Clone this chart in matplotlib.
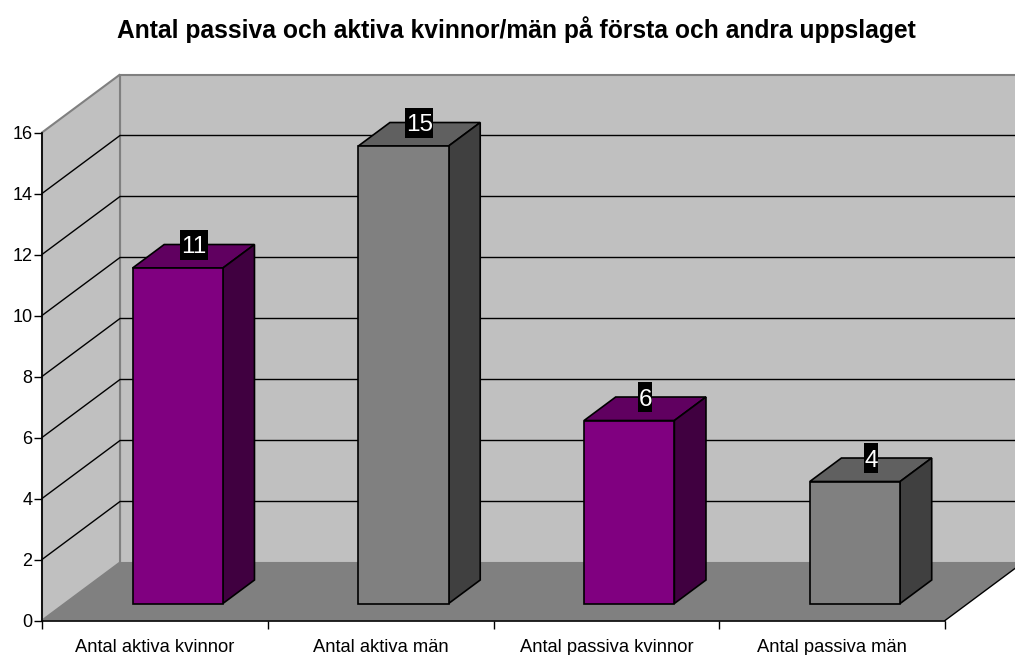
import matplotlib.pyplot as plt
from matplotlib.patches import Polygon

plt.rcParams['font.family'] = ['Liberation Sans', 'DejaVu Sans']

# Data
categories = ['Antal aktiva kvinnor', 'Antal aktiva män', 'Antal passiva kvinnor', 'Antal passiva män']
values = [11, 15, 6, 4]
y_ticks = [0, 2, 4, 6, 8, 10, 12, 14, 16]
title = 'Antal passiva och aktiva kvinnor/män på första och andra uppslaget'

# Colours: front, top, side
purple = ('#800080', '#600060', '#400040')
gray = ('#808080', '#606060', '#404040')
bar_colors = [purple, gray, purple, gray]

# 3D look: how far the back of the box sits from the front, in data units
depth_x = 78 / 225.75
depth_y = 58 / 30.5
bar_front = 0.293
bar_back = 0.698
bar_width = 0.4
ymax = 16
n = len(categories)

# Size of the black label box, in data units
box_w = 14 / 225.75  # per digit
box_h = 30 / 30.5


def pt(x, y, d=0):
    # oblique projection, d=0 is the front plane and d=1 the back wall
    return (x + d * depth_x, y + d * depth_y)


fig = plt.figure(figsize=(10.15, 6.55), dpi=100)
ax = fig.add_axes([42 / 1015, (655 - 620.5) / 655, 903 / 1015, 488 / 655])
ax.set_xlim(0, n)
ax.set_ylim(0, ymax)


def face(points, color, edge='black', lw=1.2, z=2):
    ax.add_patch(Polygon(points, closed=True, facecolor=color, edgecolor=edge,
                         linewidth=lw, clip_on=False, zorder=z, joinstyle='miter'))


# Walls and floor
wall_edge = '#808080'
face([pt(0, 0, 1), pt(n, 0, 1), pt(n, ymax, 1), pt(0, ymax, 1)], '#C0C0C0', wall_edge, 1.5, 1)
face([pt(0, 0, 0), pt(0, 0, 1), pt(0, ymax, 1), pt(0, ymax, 0)], '#C0C0C0', wall_edge, 1.5, 1)
face([pt(0, 0, 0), pt(n, 0, 0), pt(n, 0, 1), pt(0, 0, 1)], '#808080', 'none', 0, 1.2)

# Floor front and right edges
ax.plot(*zip(pt(n, 0, 0), pt(n, 0, 1)), color='black', lw=1, clip_on=False, zorder=1.3)

# Gridlines on side wall and back wall
for v in y_ticks[1:-1]:
    ax.plot(*zip(pt(0, v, 0), pt(0, v, 1), pt(n, v, 1)), color='black', lw=1,
            clip_on=False, zorder=1.5)

# Bars
for i, (val, cols) in enumerate(zip(values, bar_colors)):
    left = i + 0.5 - bar_width / 2
    right = i + 0.5 + bar_width / 2
    face([pt(left, val, bar_front), pt(right, val, bar_front),
          pt(right, val, bar_back), pt(left, val, bar_back)], cols[1], z=3)
    face([pt(right, 0, bar_front), pt(right, 0, bar_back),
          pt(right, val, bar_back), pt(right, val, bar_front)], cols[2], z=3)
    face([pt(left, 0, bar_front), pt(right, 0, bar_front),
          pt(right, val, bar_front), pt(left, val, bar_front)], cols[0], z=3)

    # Value label: white on a black box, at the back edge of the top face
    lx, ly = pt(i + 0.5, val, bar_front)
    lx += (bar_back - bar_front) * depth_x / 2
    ly += (bar_back - bar_front) * depth_y
    hw = len(str(val)) * box_w / 2
    face([(lx - hw, ly - box_h / 2), (lx + hw, ly - box_h / 2),
          (lx + hw, ly + box_h / 2), (lx - hw, ly + box_h / 2)], 'black', 'none', 0, 3.5)
    ax.text(lx, ly, str(val), color='white', fontsize=17.5, ha='center',
            va='center_baseline', zorder=4)

# Axes, ticks and labels
for s in ['top', 'right']:
    ax.spines[s].set_visible(False)
for s in ['left', 'bottom']:
    ax.spines[s].set_linewidth(1.2)
    ax.spines[s].set_zorder(1.6)
ax.patch.set_visible(False)
ax.set_yticks(y_ticks)
ax.set_xticks(range(n + 1))
ax.set_xticklabels([])
ax.set_xticks([i + 0.5 for i in range(n)], minor=True)
ax.set_xticklabels(categories, minor=True)
ax.tick_params(axis='x', which='minor', length=0, pad=13, labelsize=13.2, labelcolor='black')
ax.tick_params(axis='x', which='major', length=6, width=1)
ax.tick_params(axis='y', length=6, width=1, labelsize=13, pad=1)

fig.text(516 / 1015, 1 - 30 / 655, title, fontsize=17.7, fontweight='bold', ha='center', va='center')

fig.savefig('out.png', dpi=100)
